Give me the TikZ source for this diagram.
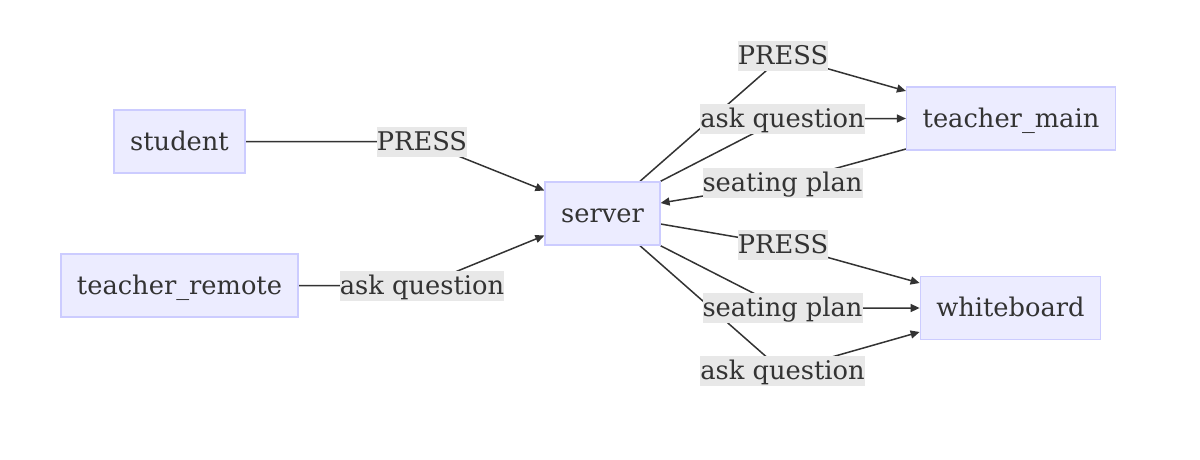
\documentclass[tikz,border=0pt]{standalone}
\usepackage{fontspec}
\setmainfont{DejaVu Serif}
\usetikzlibrary{arrows.meta,backgrounds}
\definecolor{txt}{HTML}{333333}
\definecolor{boxfill}{HTML}{ECECFF}
\definecolor{boxline}{HTML}{CCCCFF}
\definecolor{lblbg}{HTML}{E8E8E8}
\begin{document}
\begin{tikzpicture}[x=1pt,y=-1pt, font=\fontsize{25.7}{30}\selectfont, text=txt,
 every node/.style={text height=23.4pt, text depth=6.4pt},
 box/.style={draw=boxline, fill=boxfill, line width=1.5pt, minimum height=63pt, inner xsep=16pt, inner ysep=0pt},
 lbl/.style={fill=lblbg, inner xsep=0pt, inner ysep=0pt, minimum height=30pt},
 edge/.style={draw=txt, line width=1.5pt},
 arr/.style={edge, -{Triangle[length=9pt,width=8pt]}}]
\useasboundingbox (0,0) rectangle (1200,459);
\node[box] (st) at (179.5,141.5) {student};
\node[box] (tr) at (179.5,285.5) {teacher\_remote};
\node[box] (sv) at (602.5,213.5) {server};
\node[box] (tm) at (1011,118.5) {teacher\_main};
\node[box] (wb) at (1010.5,308) {whiteboard};
\node[lbl] (l1) at (422,141.5) {PRESS};
\node[lbl] (l2) at (422,285.5) {ask question};
\node[lbl] (l3) at (783,56) {PRESS};
\node[lbl] (l4) at (782.5,118.5) {ask question};
\node[lbl] (l5) at (782.5,183) {seating plan};
\node[lbl] (l6) at (783,245) {PRESS};
\node[lbl] (l7) at (782.5,308) {seating plan};
\node[lbl] (l8) at (782.5,371) {ask question};
\begin{scope}[on background layer]
\draw[arr] (st.east) -- (l1.center) -- ([yshift=23pt]sv.west);
\draw[arr] (tr.east) -- (l2.center) -- ([yshift=-22pt]sv.west);
\draw[arr] ([xshift=37.5pt]sv.north) -- (l3.center) -- ([yshift=27.5pt]tm.west);
\draw[arr] (sv.north east) -- (l4.center) -- (tm.west);
\draw[arr] ([yshift=-30.5pt]tm.west) -- (l5.center) -- ([yshift=10.5pt]sv.east);
\draw[arr] ([yshift=-10.5pt]sv.east) -- (l6.center) -- ([yshift=25pt]wb.west);
\draw[arr] (sv.south east) -- (l7.center) -- (wb.west);
\draw[arr] ([xshift=37.5pt]sv.south) -- (l8.center) -- ([yshift=-24pt]wb.west);
\end{scope}
\end{tikzpicture}
\end{document}
